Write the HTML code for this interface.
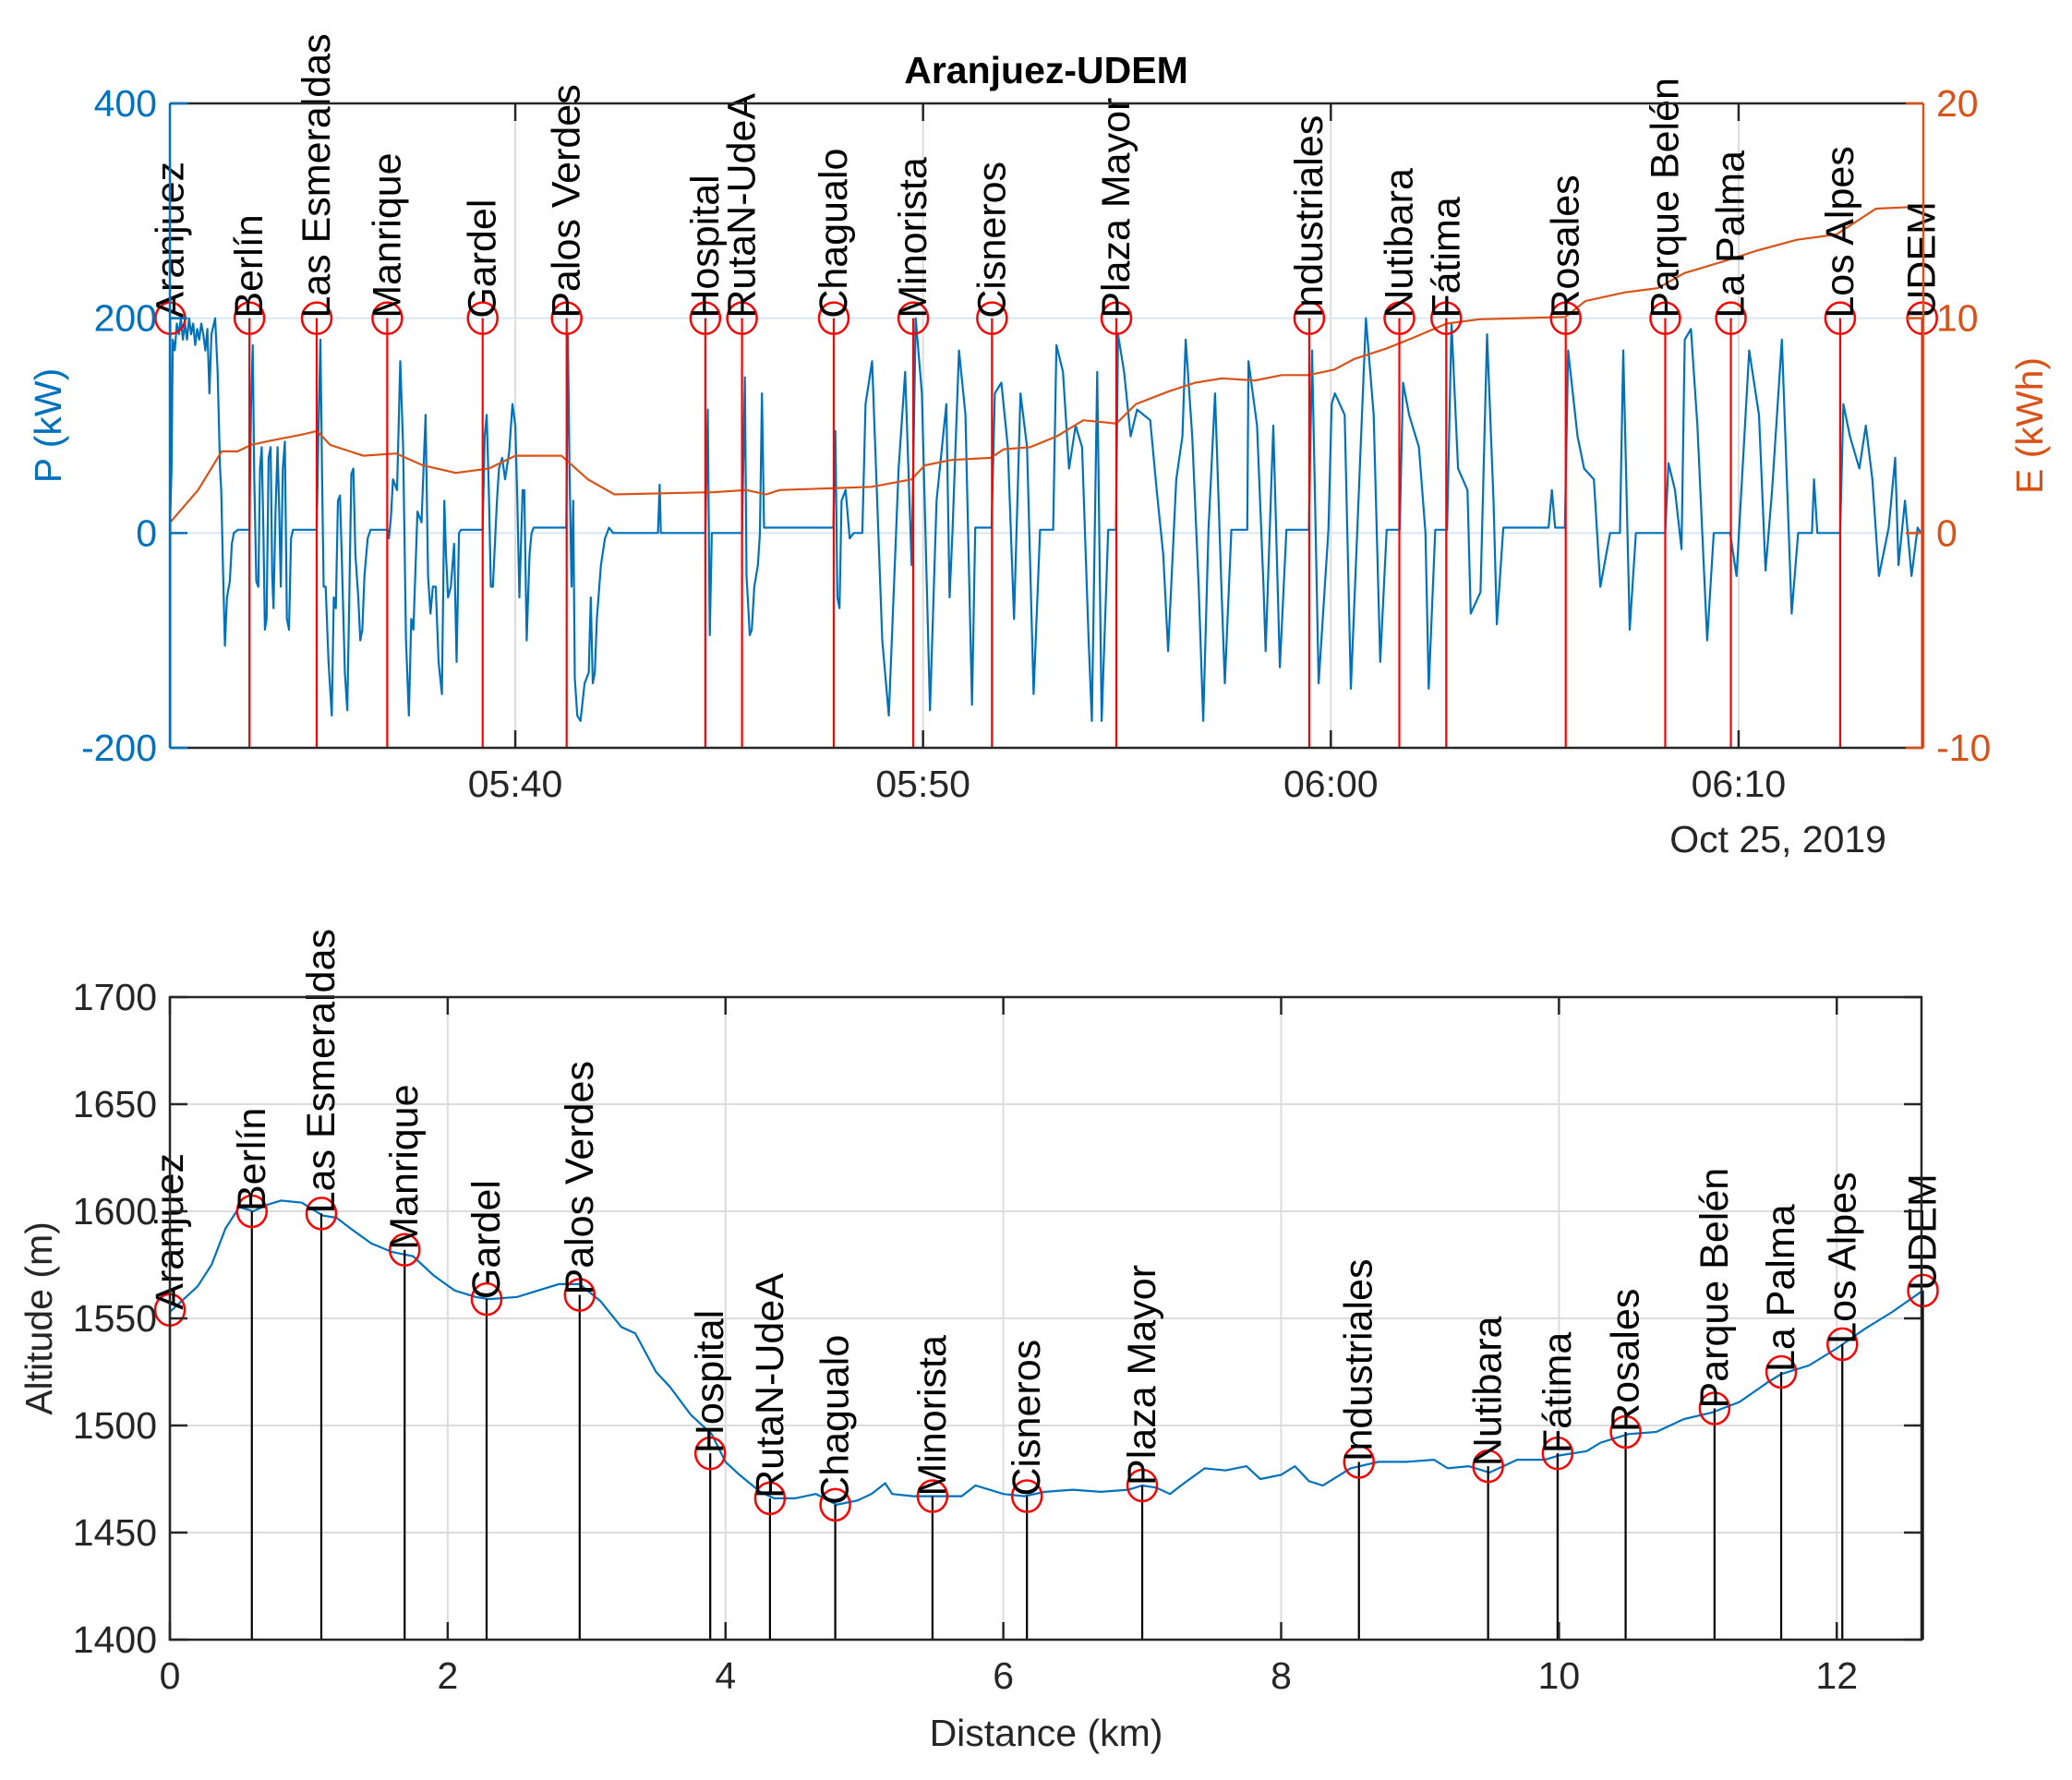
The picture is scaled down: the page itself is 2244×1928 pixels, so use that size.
<!DOCTYPE html>
<html><head><meta charset="utf-8"><style>
html,body{margin:0;padding:0;background:#fff;}
svg{display:block;font-family:"Liberation Sans",Arial,sans-serif;}
</style></head><body>
<svg id="chart" width="2244" height="1928" viewBox="0 0 2244 1928" xmlns="http://www.w3.org/2000/svg">
<g id="topChart"></g>
<g id="bottomChart"></g>
</svg>
<script>
const stationNames = ["Aranjuez","Berlín","Las Esmeraldas","Manrique","Gardel","Palos Verdes","Hospital","RutaN-UdeA","Chagualo","Minorista","Cisneros","Plaza Mayor","Industriales","Nutibara","Fátima","Rosales","Parque Belén","La Palma","Los Alpes","UDEM"];
// station times in minutes after 05:00
const stationTimes = [31.54,33.48,35.13,36.86,39.2,41.26,44.66,45.56,47.81,49.76,51.69,54.74,59.47,61.68,62.83,65.76,68.2,69.81,72.49,74.5];
const stationDist = [0,0.59,1.09,1.69,2.28,2.95,3.89,4.32,4.79,5.49,6.17,7.0,8.56,9.49,9.99,10.48,11.12,11.6,12.04,12.62];
const stationAlt = [1554,1600,1599,1582,1559,1561,1487,1466,1463,1467,1467,1472,1483,1481,1487,1497,1508,1525,1538,1563];

const powerTimes = [31.53,31.57,31.6,31.65,31.7,31.75,31.8,31.85,31.9,31.95,32.0,32.05,32.1,32.15,32.2,32.25,32.3,32.35,32.4,32.45,32.5,32.55,32.64,32.7,32.76,32.79,32.83,32.88,32.93,33.0,33.05,33.1,33.2,33.48,33.52,33.56,33.6,33.65,33.7,33.74,33.78,33.82,33.86,33.9,33.95,34.0,34.04,34.07,34.12,34.17,34.21,34.25,34.3,34.35,34.4,34.45,34.5,34.55,35.13,35.17,35.22,35.26,35.3,35.35,35.42,35.5,35.55,35.6,35.65,35.7,35.75,35.82,35.88,35.93,35.98,36.03,36.08,36.15,36.2,36.25,36.3,36.38,36.45,36.87,36.9,36.95,37.0,37.1,37.18,37.25,37.32,37.39,37.45,37.5,37.6,37.7,37.8,37.86,37.92,37.98,38.05,38.12,38.2,38.26,38.3,38.35,38.42,38.5,38.56,38.62,38.67,39.2,39.25,39.3,39.35,39.4,39.45,39.55,39.6,39.68,39.75,39.85,39.93,40.0,40.05,40.1,40.18,40.22,40.28,40.35,40.4,40.45,41.25,41.29,41.33,41.38,41.42,41.46,41.52,41.6,41.7,41.8,41.85,41.9,41.95,42.0,42.1,42.2,42.3,42.4,43.5,43.54,43.57,44.66,44.72,44.77,44.82,45.56,45.63,45.67,45.7,45.75,45.8,45.86,45.95,46.0,46.05,46.1,47.8,47.85,47.9,47.95,48.0,48.1,48.2,48.3,48.51,48.59,48.75,49.0,49.16,49.4,49.56,49.72,49.82,49.97,
50.17,50.33,50.57,50.65,50.72,50.88,51.04,51.2,51.28,51.68,51.76,51.92,52.08,52.23,52.39,52.55,52.71,52.87,53.19,53.27,53.43,53.58,53.74,53.9,54.06,54.14,54.27,54.38,54.54,54.73,54.78,54.93,55.09,55.25,55.57,55.73,55.89,56.01,56.21,56.36,56.44,56.6,56.76,56.87,57.0,57.16,57.32,57.4,57.56,57.95,57.98,58.19,58.35,58.4,58.59,58.75,58.91,59.46,59.54,59.7,59.94,60.02,60.1,60.34,60.49,60.73,60.86,61.05,61.21,61.37,61.69,61.77,61.92,62.16,62.32,62.4,62.56,62.85,62.96,63.12,63.35,63.43,63.67,63.83,63.99,64.07,64.23,65.34,65.42,65.5,65.74,65.82,66.05,66.21,66.45,66.61,66.85,67.09,67.17,67.33,67.48,68.2,68.28,68.44,68.6,68.68,68.83,68.99,69.23,69.39,69.79,69.95,70.26,70.5,70.66,70.82,71.06,71.3,71.46,71.8,71.85,71.93,72.49,72.57,72.73,72.96,73.12,73.28,73.44,73.68,73.84,73.92,74.08,74.24,74.39,74.47];
const powerValues = [5,60,180,170,195,185,200,180,195,180,200,185,195,175,190,180,195,185,170,190,130,185,200,150,60,40,-30,-105,-60,-45,-10,0,3,3,120,175,50,-45,-50,60,80,10,-90,-80,70,80,-40,-70,20,80,20,-50,60,85,-80,-90,-5,3,3,90,180,60,-50,-50,-120,-170,-60,-70,30,35,-30,-130,-165,-60,55,60,-20,-60,-100,-90,-40,-5,3,3,-5,15,50,40,160,80,-100,-170,-80,-90,20,10,110,-40,-75,-50,-50,-120,-150,30,-20,-60,-50,-10,-120,0,3,3,90,110,40,-50,-50,30,60,70,50,75,120,100,30,-60,40,40,-100,-20,0,5,5,185,60,-50,30,-135,-170,-175,-140,-130,-60,-140,-130,-80,-30,-5,5,0,0,45,0,0,115,-95,0,0,145,-40,-60,-95,-90,-50,-30,0,130,5,5,95,-60,-70,30,40,-5,0,0,120,160,-100,-170,60,150,-30,200,130,
-165,30,120,-60,0,170,110,-160,5,5,130,140,80,-80,130,80,-150,3,3,175,150,60,100,80,-100,-175,150,-175,3,3,185,150,90,115,105,40,-20,-110,50,90,180,90,-50,-175,3,130,-55,-140,3,3,160,100,-50,-110,100,-125,3,3,170,-140,3,120,130,110,-145,80,200,110,-120,3,3,140,110,80,0,-145,3,3,195,60,40,-75,-55,185,30,-85,5,5,40,5,5,170,90,60,50,-50,0,0,170,-90,0,0,65,40,-15,180,190,100,-100,0,0,-40,170,110,-35,40,180,-75,0,0,50,0,0,120,90,60,100,50,-40,5,70,-30,30,-40,5,0];

const energyTimes = [31.54,32.22,32.8,33.19,33.52,34.0,34.81,35.14,35.46,36.27,37.08,37.73,38.54,39.35,40.0,41.13,41.78,42.43,44.86,45.67,46.15,46.48,48.74,49.72,50.04,50.69,51.66,51.98,52.63,53.28,53.93,54.74,55.22,56.03,56.68,57.33,58.14,58.79,59.44,60.08,60.57,61.38,62.03,62.84,63.65,65.75,66.24,67.21,68.02,68.67,69.64,70.45,71.43,72.4,73.37,74.5];
const energyValues = [0.5,2.0,3.8,3.8,4.1,4.3,4.6,4.75,4.1,3.6,3.7,3.15,2.8,3.0,3.6,3.6,2.5,1.8,1.9,2.0,1.8,2.0,2.15,2.5,3.15,3.4,3.5,3.9,4.0,4.5,5.25,5.1,6.0,6.6,7.0,7.2,7.1,7.35,7.35,7.6,8.1,8.6,9.1,9.75,9.95,10.06,10.8,11.2,11.4,12.1,12.65,13.15,13.65,13.9,15.1,15.2];

const altDist = [0,0.2,0.3,0.4,0.5,0.6,0.7,0.8,0.95,1.1,1.2,1.3,1.45,1.6,1.75,1.9,2.05,2.2,2.3,2.5,2.65,2.8,2.95,3.1,3.25,3.35,3.5,3.6,3.75,3.9,4.0,4.1,4.25,4.35,4.5,4.65,4.8,4.95,5.05,5.15,5.2,5.35,5.5,5.7,5.8,5.9,6.0,6.15,6.3,6.5,6.7,6.9,7.0,7.1,7.2,7.3,7.45,7.6,7.75,7.85,8.0,8.1,8.2,8.3,8.5,8.7,8.9,9.1,9.2,9.35,9.5,9.7,9.9,10.0,10.2,10.3,10.5,10.7,10.9,11.1,11.3,11.5,11.6,11.8,12.0,12.2,12.4,12.62];
const altValues = [1553,1565,1575,1592,1602,1600,1603,1605,1604,1598,1597,1592,1585,1581,1579,1570,1563,1560,1559,1560,1563,1566,1566,1558,1546,1543,1525,1518,1505,1496,1483,1477,1469,1466,1466,1468,1463,1465,1468,1473,1468,1467,1467,1467,1472,1470,1468,1467,1469,1470,1469,1470,1472,1471,1468,1473,1480,1479,1481,1475,1477,1481,1474,1472,1480,1483,1483,1484,1480,1481,1478,1484,1484,1486,1488,1492,1496,1497,1503,1506,1511,1520,1524,1528,1536,1545,1553,1563];

const pTicks = [-200,0,200,400];
const eTicks = [-10,0,10,20];
const timeTicks = [40,50,60,70];
const timeTickLabels = ["05:40","05:50","06:00","06:10"];
const distTicks = [0,2,4,6,8,10,12];
const altTicks = [1400,1450,1500,1550,1600,1650,1700];

const SVGNS="http://www.w3.org/2000/svg";
const BLUE="#0072BD", ORANGE="#D95319", RED="#FF0000";
const LBL=43;
function mk(parent, tag, attrs, text){const e=document.createElementNS(SVGNS,tag);for(const k in attrs)e.setAttribute(k,attrs[k]);if(text!==undefined)e.textContent=text;parent.appendChild(e);return e;}

const T={l:184,r:2083,t:112,b:810};
const tx=m=>T.l+(m-31.53)/(74.53-31.53)*(T.r-T.l);
const py=p=>T.b-(p+200)/600*(T.b-T.t);
const ey=e=>T.b-(e+10)/30*(T.b-T.t);
const B={l:184,r:2081,t:1080,b:1776};
const dx=d=>B.l+d/12.61*(B.r-B.l);
const ay=a=>B.b-(a-1400)/300*(B.b-B.t);

const topG=document.getElementById('topChart');
const botG=document.getElementById('bottomChart');

for(const t of timeTicks){const g=mk(topG,'line',{x1:tx(t),x2:tx(t),y1:T.t,y2:T.b,stroke:'#dcdcdc','stroke-width':2});

}
for(const p of pTicks){if(p===-200||p===400)continue;const g=mk(topG,'line',{x1:T.l,x2:T.r,y1:py(p),y2:py(p),stroke:'#d7e6f2','stroke-width':2});

}

let pd='';powerTimes.forEach((t,i)=>{pd+=(i?'L':'M')+tx(t).toFixed(1)+','+py(powerValues[i]).toFixed(1);});
const pl=mk(topG,'path',{d:pd,fill:'none',stroke:BLUE,'stroke-width':2.2,'stroke-linejoin':'round'});


let ed='';energyTimes.forEach((t,i)=>{ed+=(i?'L':'M')+tx(t).toFixed(1)+','+ey(energyValues[i]).toFixed(1);});
const el=mk(topG,'path',{d:ed,fill:'none',stroke:ORANGE,'stroke-width':2.2});



stationTimes.forEach((t,i)=>{
 const x=tx(t);
 const ln=mk(topG,'line',{x1:x,x2:x,y1:py(200),y2:T.b,stroke:RED,'stroke-width':2.2});
 
 
 const c=mk(topG,'ellipse',{cx:x,cy:py(200),rx:16,ry:17,fill:'none',stroke:RED,'stroke-width':2.5});
 
 
 const tt=mk(topG,'text',{x:0,y:0,transform:`translate(${x},${py(200)}) rotate(-90)`,'dominant-baseline':'central','font-size':LBL,fill:'#000'},stationNames[i]);
 
 
});

const ab=mk(topG,'path',{d:`M${T.l},${T.t}H${T.r}M${T.l},${T.b}H${T.r}`,stroke:'#262626','stroke-width':2.5,fill:'none'});


const la=mk(topG,'line',{x1:T.l,x2:T.l,y1:T.t,y2:T.b,stroke:BLUE,'stroke-width':2.5});


const ra=mk(topG,'line',{x1:T.r,x2:T.r,y1:T.t,y2:T.b,stroke:ORANGE,'stroke-width':2.5});


pTicks.forEach(p=>{
 mk(topG,'line',{x1:T.l,x2:T.l+19,y1:py(p),y2:py(p),stroke:BLUE,'stroke-width':2.5});
 const t=mk(topG,'text',{x:T.l-14,y:py(p),'text-anchor':'end','dominant-baseline':'central','font-size':41,fill:BLUE},String(p));
 
 
});
eTicks.forEach(e=>{
 mk(topG,'line',{x1:T.r-19,x2:T.r,y1:ey(e),y2:ey(e),stroke:ORANGE,'stroke-width':2.5});
 const t=mk(topG,'text',{x:T.r+14,y:ey(e),'text-anchor':'start','dominant-baseline':'central','font-size':41,fill:ORANGE},String(e));
 
 
});
timeTicks.forEach((m,i)=>{
 mk(topG,'line',{x1:tx(m),x2:tx(m),y1:T.b,y2:T.b-19,stroke:'#262626','stroke-width':2.5});
 mk(topG,'line',{x1:tx(m),x2:tx(m),y1:T.t,y2:T.t+19,stroke:'#262626','stroke-width':2.5});
 const t=mk(topG,'text',{x:tx(m),y:849,'text-anchor':'middle','dominant-baseline':'central','font-size':41,fill:'#262626'},timeTickLabels[i]);
 
 
});

let lb=mk(topG,'text',{x:2043,y:909,'text-anchor':'end','dominant-baseline':'central','font-size':41,fill:'#262626'},'Oct 25, 2019');


lb=mk(topG,'text',{x:1133,y:76,'text-anchor':'middle','dominant-baseline':'central','font-size':41,'font-weight':'bold',fill:'#000'},'Aranjuez-UDEM');


lb=mk(topG,'text',{x:0,y:0,transform:'translate(52,461) rotate(-90)','text-anchor':'middle','dominant-baseline':'central','font-size':41,fill:BLUE},'P (kW)');


lb=mk(topG,'text',{x:0,y:0,transform:'translate(2198,461) rotate(-90)','text-anchor':'middle','dominant-baseline':'central','font-size':41,fill:ORANGE},'E (kWh)');


lb=mk(botG,'text',{x:0,y:0,transform:'translate(42,1428) rotate(-90)','text-anchor':'middle','dominant-baseline':'central','font-size':41,fill:'#262626'},'Altitude (m)');


lb=mk(botG,'text',{x:1133,y:1877,'text-anchor':'middle','dominant-baseline':'central','font-size':41,fill:'#262626'},'Distance (km)');



distTicks.forEach(v=>{const g=mk(botG,'line',{x1:dx(v),x2:dx(v),y1:B.t,y2:B.b,stroke:'#dcdcdc','stroke-width':2});

});
altTicks.forEach(v=>{const g=mk(botG,'line',{x1:B.l,x2:B.r,y1:ay(v),y2:ay(v),stroke:'#dcdcdc','stroke-width':2});

});
let ad='';altDist.forEach((v,i)=>{ad+=(i?'L':'M')+dx(v).toFixed(1)+','+ay(altValues[i]).toFixed(1);});
const ap=mk(botG,'path',{d:ad,fill:'none',stroke:BLUE,'stroke-width':2.2});


stationDist.forEach((v,i)=>{
 const x=dx(v),y=ay(stationAlt[i]);
 const s=mk(botG,'line',{x1:x,x2:x,y1:y,y2:B.b,stroke:'#000','stroke-width':2.2});
 
 
 const c=mk(botG,'ellipse',{cx:x,cy:y,rx:16,ry:17,fill:'none',stroke:RED,'stroke-width':2.5});
 
 
 const t=mk(botG,'text',{x:0,y:0,transform:`translate(${x},${y}) rotate(-90)`,'dominant-baseline':'central','font-size':LBL,fill:'#000'},stationNames[i]);
 
 
});
const box=mk(botG,'rect',{x:B.l,y:B.t,width:B.r-B.l,height:B.b-B.t,fill:'none',stroke:'#262626','stroke-width':2.5});


distTicks.forEach(v=>{
 mk(botG,'line',{x1:dx(v),x2:dx(v),y1:B.b,y2:B.b-19,stroke:'#262626','stroke-width':2.5});
 mk(botG,'line',{x1:dx(v),x2:dx(v),y1:B.t,y2:B.t+19,stroke:'#262626','stroke-width':2.5});
 const t=mk(botG,'text',{x:dx(v),y:1815,'text-anchor':'middle','dominant-baseline':'central','font-size':41,fill:'#262626'},String(v));
 
 
});
altTicks.forEach(v=>{
 mk(botG,'line',{x1:B.l,x2:B.l+19,y1:ay(v),y2:ay(v),stroke:'#262626','stroke-width':2.5});
 mk(botG,'line',{x1:B.r-19,x2:B.r,y1:ay(v),y2:ay(v),stroke:'#262626','stroke-width':2.5});
 const t=mk(botG,'text',{x:B.l-14,y:ay(v),'text-anchor':'end','dominant-baseline':'central','font-size':41,fill:'#262626'},String(v));
 
 
});
</script>
</body></html>
